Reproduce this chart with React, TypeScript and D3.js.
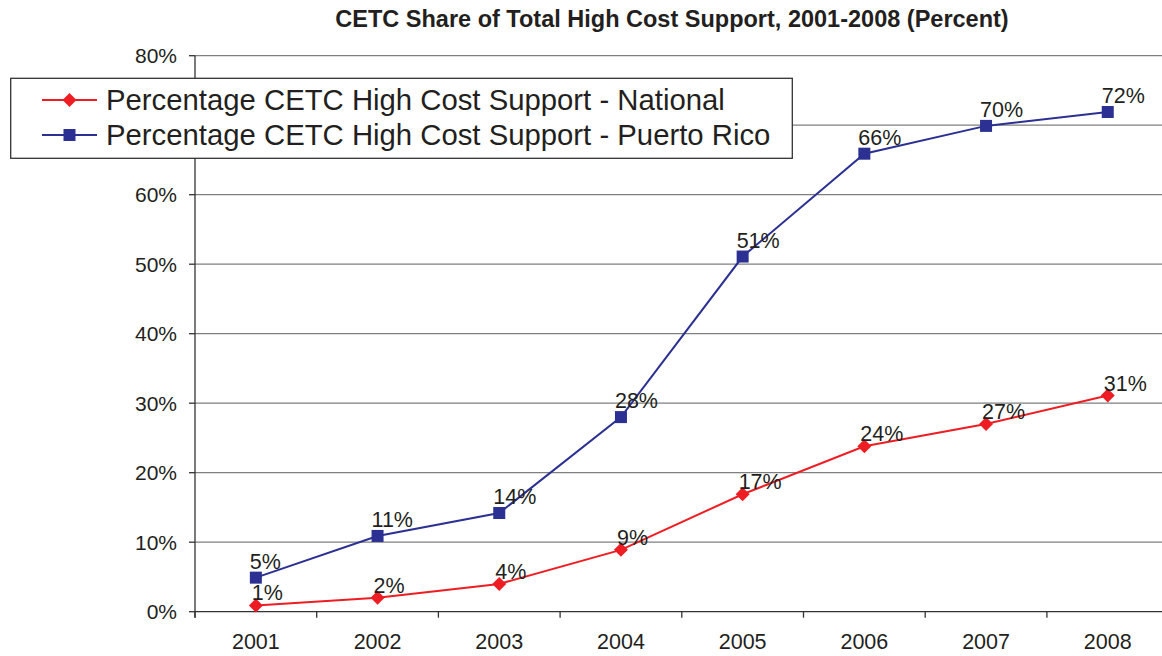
import React from "react";
import * as d3 from "d3";

const years = ["2001", "2002", "2003", "2004", "2005", "2006", "2007", "2008"];
const nationalValues = [0.9, 2.0, 4.0, 8.9, 16.9, 23.8, 27.0, 31.1];
const puertoRicoValues = [4.9, 10.9, 14.2, 28.0, 51.1, 65.9, 69.9, 71.9];
const nationalLabels = ["1%", "2%", "4%", "9%", "17%", "24%", "27%", "31%"];
const puertoRicoLabels = ["5%", "11%", "14%", "28%", "51%", "66%", "70%", "72%"];
const yTicks = [0, 10, 20, 30, 40, 50, 60, 70, 80];
const seriesNames = [
  "Percentage CETC High Cost Support - National",
  "Percentage CETC High Cost Support - Puerto Rico",
];
const title = "CETC Share of Total High Cost Support, 2001-2008 (Percent)";

const W = 1162;
const H = 656;
const LEFT = 195;
const RIGHT = 1168.6;
const TOP = 55.7;
const BOTTOM = 611.7;
const RED = "#EE1D23";
const BLUE = "#2B3092";
const TEXT = "#231F20";
const FONT = "Arial, 'Liberation Sans', sans-serif";
const LEGEND = { x: 10.7, y: 78.3, w: 781.6, h: 80 };

export default function App() {
  const x = d3.scaleBand<string>().domain(years).range([LEFT, RIGHT]).padding(0);
  const cx = (c: string) => (x(c) as number) + x.bandwidth() / 2;
  const y = d3.scaleLinear().domain([0, 80]).range([BOTTOM, TOP]);

  const line = d3
    .line<number>()
    .x((_, i) => cx(years[i]))
    .y((d) => y(d));

  const diamond = (px: number, py: number, r: number) =>
    `M${px},${py - r}L${px + r},${py}L${px},${py + r}L${px - r},${py}Z`;

  const bandEdges = years.map((c) => x(c) as number).concat([RIGHT]);
  const hiddenByLegend = (t: number) =>
    y(t) > LEGEND.y && y(t) < LEGEND.y + LEGEND.h;

  return (
    <svg
      width={W}
      height={H}
      style={{ position: "absolute", left: 0, top: 0, background: "#fff" }}
      fontFamily={FONT}
    >
      <rect x={0} y={0} width={W} height={H} fill="#fff" />
      <text
        x={672}
        y={27}
        textAnchor="middle"
        fontWeight="bold"
        fontSize={23.5}
        fill={TEXT}
      >
        {title}
      </text>

      {/* gridlines */}
      {yTicks.map((t) => (
        <line
          key={"g" + t}
          x1={LEFT}
          x2={RIGHT}
          y1={y(t)}
          y2={y(t)}
          stroke={t === 0 ? "#333" : "#7f7f7f"}
          strokeWidth={1.3}
        />
      ))}
      {/* y axis */}
      <line x1={LEFT} x2={LEFT} y1={TOP} y2={BOTTOM + 6} stroke="#333" strokeWidth={1.3} />
      {yTicks.map((t) => (
        <g key={"yt" + t}>
          <line x1={LEFT - 6} x2={LEFT} y1={y(t)} y2={y(t)} stroke="#333" strokeWidth={1.3} />
          {!hiddenByLegend(t) && (
            <text x={177} y={y(t) + 7.5} textAnchor="end" fontSize={21} fill={TEXT}>
              {t + "%"}
            </text>
          )}
        </g>
      ))}
      {/* x ticks */}
      {bandEdges.map((e, i) => (
        <line key={"xt" + i} x1={e} x2={e} y1={BOTTOM} y2={BOTTOM + 6} stroke="#333" strokeWidth={1.3} />
      ))}
      {years.map((c) => (
        <text key={"xl" + c} x={cx(c)} y={649} textAnchor="middle" fontSize={21.5} fill={TEXT}>
          {c}
        </text>
      ))}

      {/* series lines */}
      <path d={line(puertoRicoValues) || ""} fill="none" stroke={BLUE} strokeWidth={2} />
      <path d={line(nationalValues) || ""} fill="none" stroke={RED} strokeWidth={2} />

      {puertoRicoValues.map((v, i) => (
        <rect key={"pm" + i} x={cx(years[i]) - 6} y={y(v) - 6} width={12} height={12} fill={BLUE} />
      ))}
      {nationalValues.map((v, i) => (
        <path key={"nm" + i} d={diamond(cx(years[i]), y(v), 7)} fill={RED} />
      ))}

      {puertoRicoValues.map((v, i) => (
        <text key={"pl" + i} x={cx(years[i]) - 6} y={y(v) - 9} fontSize={21.5} fill={TEXT}>
          {puertoRicoLabels[i]}
        </text>
      ))}
      {nationalValues.map((v, i) => (
        <text key={"nl" + i} x={cx(years[i]) - 4} y={y(v) - 5} fontSize={21.5} fill={TEXT}>
          {nationalLabels[i]}
        </text>
      ))}

      {/* legend */}
      <rect x={LEGEND.x} y={LEGEND.y} width={LEGEND.w} height={LEGEND.h} fill="#fff" stroke="#333" strokeWidth={1.3} />
      {seriesNames.map((name, i) => {
        const ly = 100 + i * 35;
        const color = i === 0 ? RED : BLUE;
        return (
          <g key={"lg" + i}>
            <line x1={42} x2={97} y1={ly} y2={ly} stroke={color} strokeWidth={2} />
            {i === 0 ? (
              <path d={diamond(69.5, ly, 7)} fill={RED} />
            ) : (
              <rect x={63.5} y={ly - 6} width={12} height={12} fill={BLUE} />
            )}
            <text x={106} y={ly + 10} fontSize={29.3} fill={TEXT}>
              {name}
            </text>
          </g>
        );
      })}
    </svg>
  );
}
